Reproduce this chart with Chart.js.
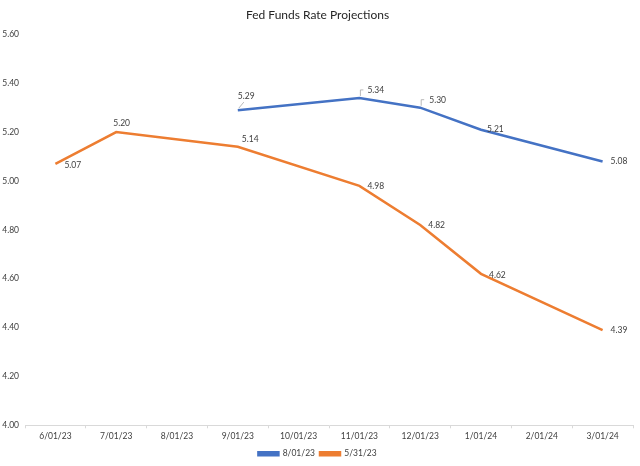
<!DOCTYPE html>
<html>
<head>
<meta charset="utf-8">
<script src="https://cdn.jsdelivr.net/npm/chart.js@4/dist/chart.umd.min.js"></script>
<style>
  html, body { margin: 0; padding: 0; background: #fff; }
  #wrap { width: 640px; height: 466px; }
</style>
</head>
<body>
<div id="wrap"><canvas id="chart" width="640" height="466"></canvas></div>
<script>
// categories and series
const months = ['6/01/23', '7/01/23', '8/01/23', '9/01/23', '10/01/23', '11/01/23', '12/01/23', '1/01/24', '2/01/24', '3/01/24'];
const aug01 = [null, null, null, 5.29, null, 5.34, 5.30, 5.21, null, 5.08];
const may31 = [5.07, 5.20, null, 5.14, null, 4.98, 4.82, 4.62, null, 4.39];
const yTicks = [4.0, 4.2, 4.4, 4.6, 4.8, 5.0, 5.2, 5.4, 5.6];

const FONT = 'Lato, "Open Sans", sans-serif';
const TEXT = '#404040';
const SMALL = 8.5;

// label placement per series: [dx, dy, align, leader]
const labelPlacement = {
  0: { 3: [0, -14, 'left', 'diag'], 5: [8, -8, 'left', 'bracket'], 6: [9, -7, 'left', 'bracket'], 7: [6, 0, 'left'], 9: [8, 0, 'left'] },
  1: { 0: [9, 1, 'left'], 1: [-3, -9, 'left'], 3: [4, -8, 'left'], 5: [8, 0, 'left'], 6: [8, 0, 'left'], 7: [8, 1, 'left'], 9: [8, 0, 'left'] }
};

const valueLabels = {
  id: 'valueLabels',
  afterDatasetsDraw(chart) {
    const ctx = chart.ctx;
    ctx.save();
    ctx.font = SMALL + 'px ' + FONT;
    ctx.fillStyle = TEXT;
    ctx.textBaseline = 'middle';
    chart.data.datasets.forEach((ds, di) => {
      const meta = chart.getDatasetMeta(di);
      meta.data.forEach((pt, i) => {
        const v = ds.data[i];
        if (v == null) return;
        const p = labelPlacement[di][i] || [8, 0, 'left'];
        const x = pt.x + p[0], y = pt.y + p[1];
        if (p[3]) {
          ctx.strokeStyle = '#a6a6a6';
          ctx.lineWidth = 0.8;
          ctx.beginPath();
          if (p[3] === 'diag') {
            ctx.moveTo(pt.x + 1, pt.y - 2);
            ctx.lineTo(pt.x + 6, pt.y - 8);
          } else {
            ctx.moveTo(pt.x + 1, pt.y - 2);
            ctx.lineTo(pt.x + 1, pt.y - 8);
            ctx.lineTo(pt.x + 4, pt.y - 8);
          }
          ctx.stroke();
        }
        ctx.textAlign = p[2];
        ctx.fillText(v.toFixed(2), x, y);
      });
    });
    ctx.restore();
  }
};

new Chart(document.getElementById('chart'), {
  type: 'line',
  data: {
    labels: months,
    datasets: [
      { label: '8/01/23', data: aug01, borderColor: '#4472C4', backgroundColor: '#4472C4' },
      { label: '5/31/23', data: may31, borderColor: '#ED7D31', backgroundColor: '#ED7D31' }
    ]
  },
  options: {
    responsive: false,
    animation: false,
    spanGaps: true,
    layout: { padding: { left: 2, right: 7, top: 0, bottom: -2 } },
    elements: {
      line: { borderWidth: 2.5, tension: 0, borderCapStyle: 'butt' },
      point: { radius: 0, hoverRadius: 0 }
    },
    plugins: {
      title: {
        display: true,
        text: 'Fed Funds Rate Projections',
        color: '#262626',
        font: { family: FONT, size: 12, weight: 'normal' },
        padding: { top: 8, bottom: 12 }
      },
      legend: {
        position: 'bottom',
        labels: {
          color: TEXT,
          font: { family: FONT, size: SMALL },
          boxWidth: 20,
          boxHeight: 3,
          padding: 5
        }
      },
      tooltip: { enabled: false }
    },
    scales: {
      x: {
        offset: true,
        grid: { offset: true, drawOnChartArea: false, drawTicks: true, tickLength: 3, color: '#d9d9d9' },
        border: { color: '#d9d9d9' },
        ticks: { color: TEXT, font: { family: FONT, size: SMALL }, maxRotation: 0, padding: 3 }
      },
      y: {
        min: 4.0,
        max: 5.6,
        afterBuildTicks(axis) { axis.ticks = yTicks.map(v => ({ value: v })); },
        afterFit(axis) { axis.width = 23; },
        grid: { display: false, drawTicks: false },
        border: { display: false },
        ticks: {
          color: TEXT,
          font: { family: FONT, size: SMALL },
          padding: 6,
          callback: v => v.toFixed(2)
        }
      }
    }
  },
  plugins: [valueLabels]
});
</script>
</body>
</html>
